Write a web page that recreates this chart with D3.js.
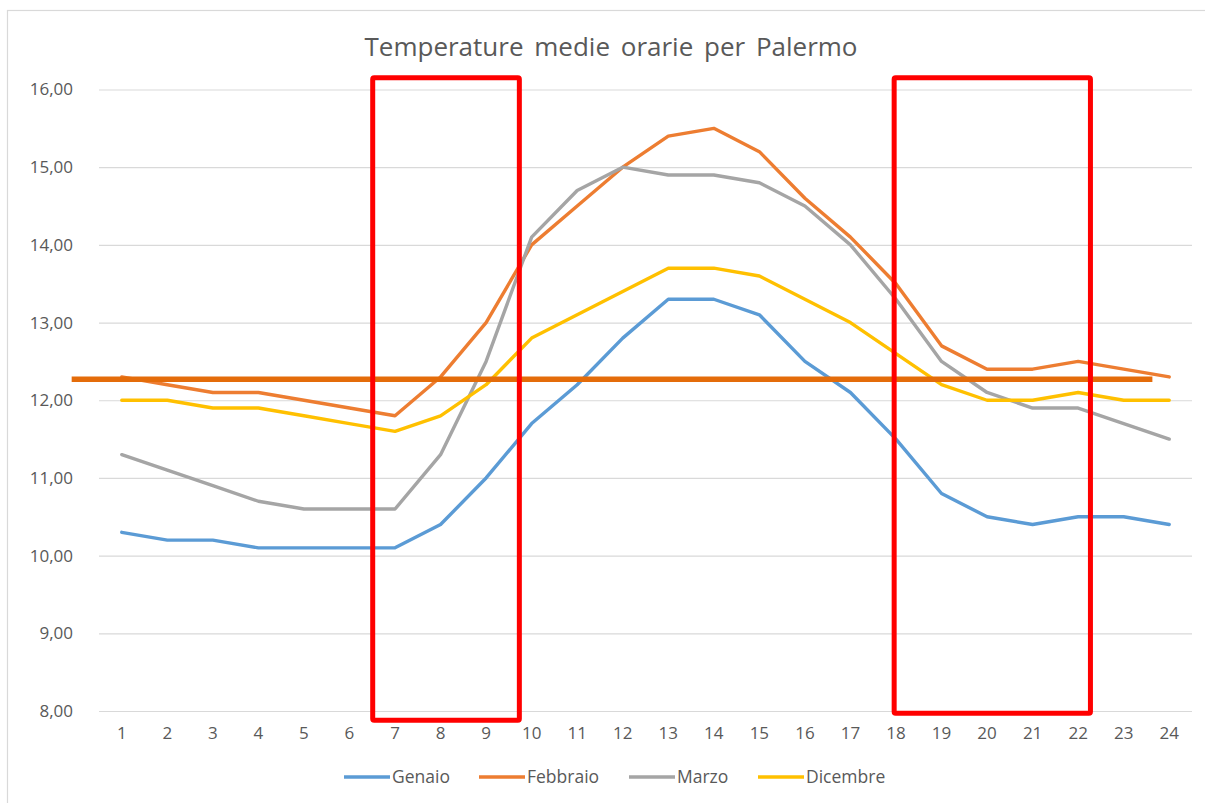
<!DOCTYPE html>
<html>
<head>
<meta charset="utf-8">
<script src="https://cdn.jsdelivr.net/npm/d3@7"></script>
<style>
  html, body { margin: 0; padding: 0; background: #fff; }
  svg { display: block; }
</style>
</head>
<body>
<svg id="chart" width="1205" height="803"></svg>
<script>
// Hourly mean temperatures, Palermo
const hours = d3.range(1, 25);
const genaio    = [10.3,10.2,10.2,10.1,10.1,10.1,10.1,10.4,11.0,11.7,12.2,12.8,13.3,13.3,13.1,12.5,12.1,11.5,10.8,10.5,10.4,10.5,10.5,10.4];
const febbraio  = [12.3,12.2,12.1,12.1,12.0,11.9,11.8,12.3,13.0,14.0,14.5,15.0,15.4,15.5,15.2,14.6,14.1,13.5,12.7,12.4,12.4,12.5,12.4,12.3];
const marzo     = [11.3,11.1,10.9,10.7,10.6,10.6,10.6,11.3,12.5,14.1,14.7,15.0,14.9,14.9,14.8,14.5,14.0,13.3,12.5,12.1,11.9,11.9,11.7,11.5];
const dicembre  = [12.0,12.0,11.9,11.9,11.8,11.7,11.6,11.8,12.2,12.8,13.1,13.4,13.7,13.7,13.6,13.3,13.0,12.6,12.2,12.0,12.0,12.1,12.0,12.0];
const seriesNames = ["Genaio", "Febbraio", "Marzo", "Dicembre"];
const seriesColors = ["#5B9BD5", "#ED7D31", "#A5A5A5", "#FFC000"];
const yTicks = [8, 9, 10, 11, 12, 13, 14, 15, 16];

// Overall threshold line and highlighted time windows (in hour / °C units)
const thresholdValue = 12.27;
const thresholdSpan = [-0.1, 23.63];
const windows = [
  { from: 6.51, to: 9.73, top: 16.15, bottom: 7.88 },
  { from: 17.96, to: 22.27, top: 16.15, bottom: 7.97 }
];

const series = [genaio, febbraio, marzo, dicembre].map((vals, i) => ({
  name: seriesNames[i], color: seriesColors[i], values: vals
}));

const svg = d3.select("#chart");
const margin = { left: 99, right: 13, top: 89.5, bottom: 92 };
const W = 1205, H = 803;
const fontFam = "'Open Sans', 'Noto Sans', sans-serif";
const textColor = "#595959";

// outer chart frame
svg.append("rect")
  .attr("x", 7.5).attr("y", 10.5)
  .attr("width", 1220).attr("height", 820)
  .attr("fill", "#fff").attr("stroke", "#d9d9d9").attr("stroke-width", 1.2);

const x = d3.scaleBand().domain(hours).range([margin.left, W - margin.right]);
const xc = h => x(h) + x.bandwidth() / 2;
// continuous hour scale, aligned with the band centres
const xh = d3.scaleLinear().domain([1, 24]).range([xc(1), xc(24)]);
const y = d3.scaleLinear().domain([8, 16]).range([H - margin.bottom, margin.top]);

// title
svg.append("text")
  .attr("x", 611).attr("y", 56)
  .attr("text-anchor", "middle")
  .attr("font-family", fontFam).attr("font-size", 26)
  .attr("word-spacing", 4)
  .attr("fill", textColor)
  .text("Temperature medie orarie per Palermo");

// horizontal gridlines + y labels
const yAxis = d3.axisLeft(y).tickValues(yTicks)
  .tickSize(-(W - margin.right - margin.left))
  .tickPadding(26)
  .tickFormat(d => d3.format(".2f")(d).replace(".", ","));
const gy = svg.append("g").attr("transform", `translate(${margin.left},0)`).call(yAxis);
gy.select(".domain").remove();
gy.selectAll(".tick line").attr("stroke", "#d9d9d9").attr("stroke-width", 1.2);
gy.selectAll(".tick text")
  .attr("font-family", fontFam).attr("font-size", 17).attr("fill", textColor);

// x labels
const xAxis = d3.axisBottom(x).tickSize(0).tickPadding(16);
const gx = svg.append("g").attr("transform", `translate(0,${y(8)})`).call(xAxis);
gx.select(".domain").remove();
gx.selectAll(".tick text")
  .attr("font-family", fontFam).attr("font-size", 17).attr("fill", textColor);

// series lines
const line = d3.line().x((d, i) => xc(hours[i])).y(d => y(d));
svg.append("g").selectAll("path").data(series).join("path")
  .attr("d", d => line(d.values))
  .attr("fill", "none")
  .attr("stroke", d => d.color)
  .attr("stroke-width", 3.4)
  .attr("stroke-linejoin", "round")
  .attr("stroke-linecap", "round");

// threshold line
svg.append("line")
  .attr("x1", xh(thresholdSpan[0])).attr("x2", xh(thresholdSpan[1]))
  .attr("y1", y(thresholdValue)).attr("y2", y(thresholdValue))
  .attr("stroke", "#E46C0A").attr("stroke-width", 5.5);

// highlighted windows
svg.append("g").selectAll("rect").data(windows).join("rect")
  .attr("x", d => xh(d.from)).attr("y", d => y(d.top))
  .attr("width", d => xh(d.to) - xh(d.from))
  .attr("height", d => y(d.bottom) - y(d.top))
  .attr("fill", "none")
  .attr("stroke", "#FF0000").attr("stroke-width", 5)
  .attr("rx", 1.5);

// legend
const legendX = [344, 479, 629, 758];
const lg = svg.append("g").selectAll("g").data(series).join("g")
  .attr("transform", (d, i) => `translate(${legendX[i]},777)`);
lg.append("line").attr("x1", 0).attr("x2", 46).attr("y1", 0).attr("y2", 0)
  .attr("stroke", d => d.color).attr("stroke-width", 3.4);
lg.append("text").attr("x", 48).attr("y", 6)
  .attr("font-family", fontFam).attr("font-size", 17.5).attr("fill", textColor)
  .text(d => d.name);
</script>
</body>
</html>
